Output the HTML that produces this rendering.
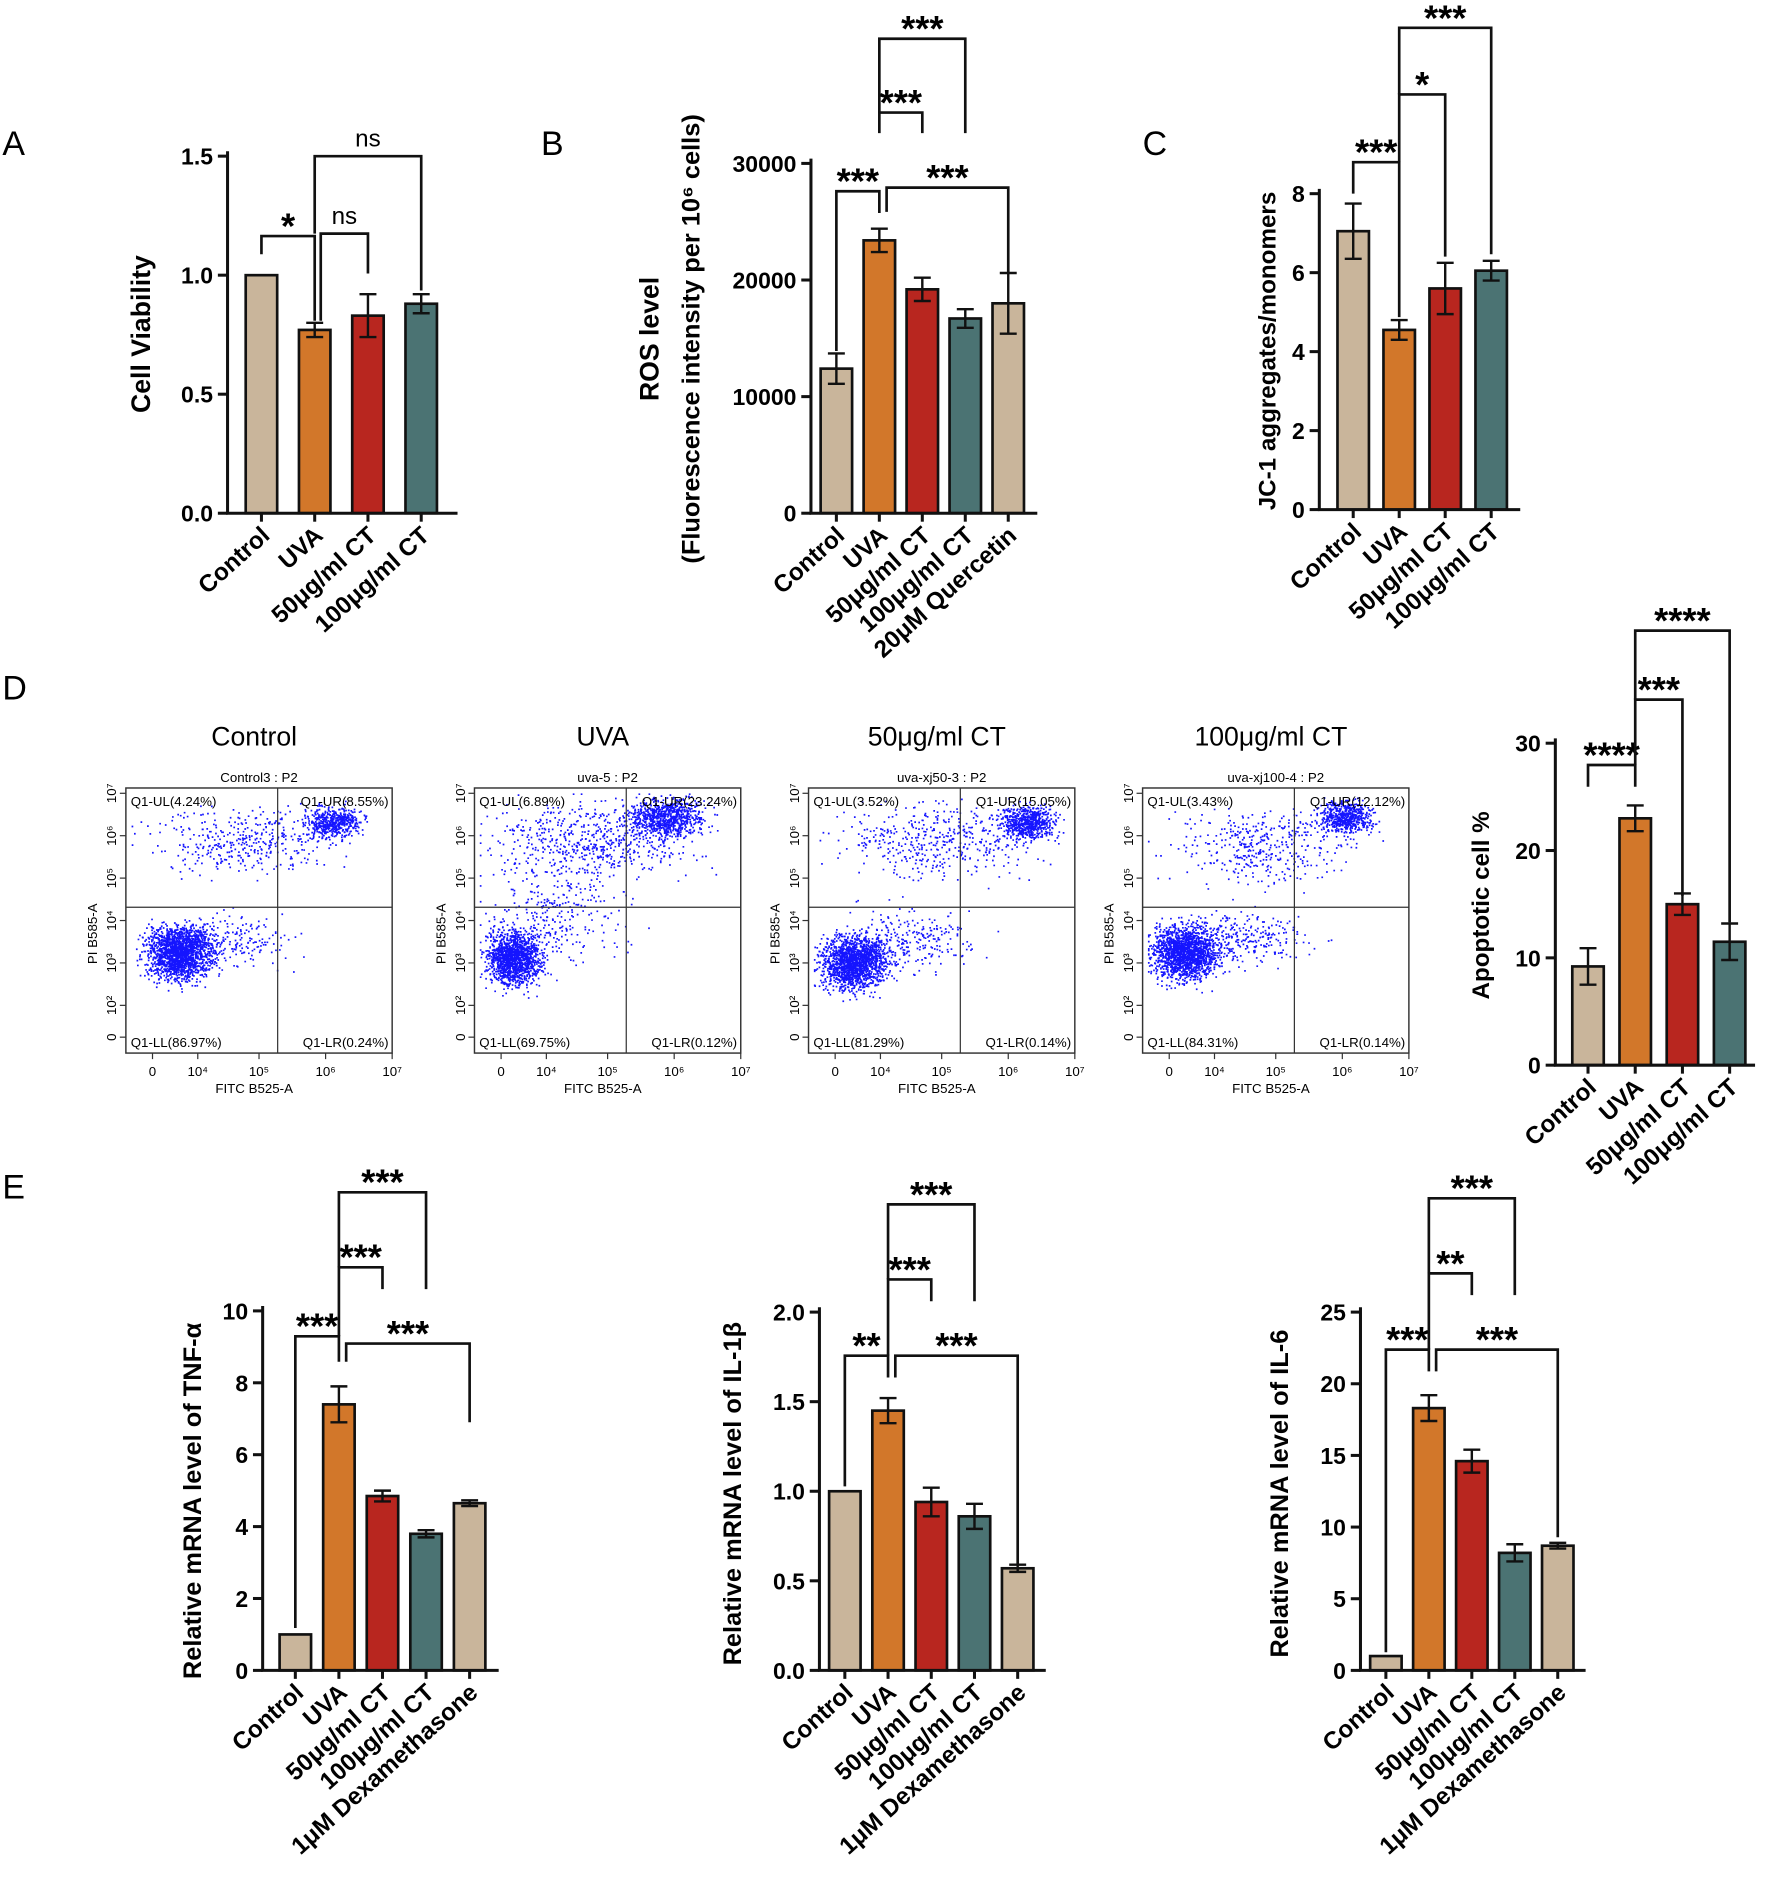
<!DOCTYPE html>
<html><head><meta charset="utf-8"><style>
html,body{margin:0;padding:0;background:#fff}
svg{display:block}
text{font-family:"Liberation Sans",Arial,sans-serif}
</style></head><body>
<svg id="fig" width="1772" height="1904" viewBox="0 0 1464 1573" preserveAspectRatio="none" xmlns="http://www.w3.org/2000/svg"></svg>
<script>
// ---- data arrays ----
const COLORS=['#c9b59b','#d2772a','#b8261f','#4b7373','#c9b59b'];
const catsA=['Control','UVA','50μg/ml CT','100μg/ml CT'];
const valsA=[1.0,0.77,0.83,0.88];
const errA=[0,0.03,0.09,0.04];
const ticksA=[0,0.5,1.0,1.5];
const tickLabA=['0.0','0.5','1.0','1.5'];
const catsB=['Control','UVA','50μg/ml CT','100μg/ml CT','20μM Quercetin'];
const valsB=[12400,23400,19200,16700,18000];
const errB=[1300,1000,1000,800,2600];
const ticksB=[0,10000,20000,30000];
const catsC=['Control','UVA','50μg/ml CT','100μg/ml CT'];
const valsC=[7.05,4.55,5.6,6.05];
const errC=[0.7,0.25,0.65,0.25];
const ticksC=[0,2,4,6,8];
const catsD=['Control','UVA','50μg/ml CT','100μg/ml CT'];
const valsD=[9.2,23.0,15.0,11.5];
const errD=[1.7,1.2,1.0,1.7];
const ticksD=[0,10,20,30];
const catsE=['Control','UVA','50μg/ml CT','100μg/ml CT','1μM Dexamethasone'];
const valsE1=[1,7.4,4.85,3.8,4.65];
const errE1=[0,0.5,0.15,0.1,0.08];
const ticksE1=[0,2,4,6,8,10];
const valsE2=[1,1.45,0.94,0.86,0.57];
const errE2=[0,0.07,0.08,0.07,0.02];
const ticksE2=[0,0.5,1.0,1.5,2.0];
const tickLabE2=['0.0','0.5','1.0','1.5','2.0'];
const valsE3=[1,18.3,14.6,8.2,8.7];
const errE3=[0,0.9,0.8,0.6,0.2];
const ticksE3=[0,5,10,15,20,25];
const flowTitles=['Control','UVA','50μg/ml CT','100μg/ml CT'];
const flowSub=['Control3 : P2','uva-5 : P2','uva-xj50-3 : P2','uva-xj100-4 : P2'];
const flowUL=['4.24','6.89','3.52','3.43'];
const flowUR=['8.55','23.24','15.05','12.12'];
const flowLL=['86.97','69.75','81.29','84.31'];
const flowLR=['0.24','0.12','0.14','0.14'];

const NS='http://www.w3.org/2000/svg';
const svg=document.getElementById('fig');
function el(tag,attrs,parent,txt){const e=document.createElementNS(NS,tag);for(const k in attrs)e.setAttribute(k,attrs[k]);if(txt!==undefined)e.textContent=txt;(parent||svg).appendChild(e);return e;}

function chart(cfg){
  const g=el('g',{});
  
  
  const y=v=>cfg.y0-(v-0)/(cfg.ymax)*(cfg.y0-cfg.ytop);
  const x=i=>cfg.x0+cfg.first+i*cfg.step;
  const bw=cfg.bw||26;
  cfg.vals.forEach((v,i)=>{
    const r=el('rect',{x:x(i)-bw/2,y:y(v),width:bw,height:cfg.y0-y(v),fill:COLORS[i],stroke:'#111','stroke-width':2.2},g);
    
    
    const e=cfg.err[i];
    if(e>0){
      el('line',{x1:x(i),x2:x(i),y1:y(v+e),y2:y(v-e),stroke:'#111','stroke-width':2},g);
      el('line',{x1:x(i)-7,x2:x(i)+7,y1:y(v+e),y2:y(v+e),stroke:'#111','stroke-width':2},g);
      el('line',{x1:x(i)-7,x2:x(i)+7,y1:y(v-e),y2:y(v-e),stroke:'#111','stroke-width':2},g);
    }
    const t=el('text',{x:0,y:0,transform:`translate(${x(i)+8},${cfg.y0+20}) rotate(-42)`,'text-anchor':'end','font-size':20,'font-weight':'bold'},g,cfg.cats[i]);
    
    
  });
  const ax=el('path',{d:`M${cfg.x0},${cfg.ytop-4}V${cfg.y0}H${cfg.xend}`,fill:'none',stroke:'#111','stroke-width':2.5},g);
  
  
  cfg.ticks.forEach((tv,k)=>{
    el('line',{x1:cfg.x0-8,x2:cfg.x0,y1:y(tv),y2:y(tv),stroke:'#111','stroke-width':2.5},g);
    const t=el('text',{x:cfg.x0-12,y:y(tv)+7,'text-anchor':'end','font-size':19,'font-weight':'bold'},g,cfg.tickLab?cfg.tickLab[k]:String(tv));
    
    
  });
  cfg.vals.forEach((v,i)=>el('line',{x1:x(i),x2:x(i),y1:cfg.y0,y2:cfg.y0+7,stroke:'#111','stroke-width':2.5},g));
  (cfg.titles||[]).forEach(tt=>{
    const t=el('text',{x:0,y:0,transform:`translate(${tt[0]},${tt[1]}) rotate(-90)`,'text-anchor':'middle','font-size':tt[2]||21,'font-weight':'bold'},g,tt[3]);
    
    
  });
  // brackets: [i, j, yline, label, leftBottom, rightBottom, dxLeft]
  (cfg.br||[]).forEach(b=>{
    const xl=x(b[0])+(b[6]||0), xr=x(b[1]);
    const p=el('path',{d:`M${xl},${b[4]}V${b[2]}H${xr}V${b[5]}`,fill:'none',stroke:'#111','stroke-width':2.2},g);
    
    
    const star=b[3].indexOf('*')>=0;
    const t=el('text',{x:(xl+xr)/2,y:star?b[2]+2:b[2]-8,'text-anchor':'middle','font-size':star?30:20,'font-weight':star?'bold':'normal'},g,b[3]);
    
    
  });
}

function panelLabel(s,xx,yy){const t=el('text',{x:xx,y:yy,'font-size':28},svg,s);}
panelLabel('A',2,128);panelLabel('B',447,128);panelLabel('C',944,128);panelLabel('D',2,578);panelLabel('E',2,990);

chart({name:'chart-a-cell-viability',cats:catsA,vals:valsA,err:errA,ticks:ticksA,tickLab:tickLabA,x0:188,y0:424,ytop:129,ymax:1.5,first:28,step:44,xend:378,
  titles:[[124,276,22,'Cell Viability']],
  br:[[0,1,195,'*',210,265,0],[1,2,193,'ns',265,226,5],[1,3,129,'ns',193,240,0]]});
chart({name:'chart-b-ros',cats:catsB,vals:valsB,err:errB,ticks:ticksB,x0:670,y0:424,ytop:135,ymax:30000,first:21,step:35.5,xend:857,
  titles:[[544,280,22,'ROS level'],[578,280,21,'(Fluorescence intensity per 10⁶ cells)']],
  br:[[0,1,158,'***',290,176,0],[1,2,93,'***',110,110,0],[1,3,32,'***',93,110,0],[1,4,155,'***',175,225,6]]});
chart({name:'chart-c-jc1',cats:catsC,vals:valsC,err:errC,ticks:ticksC,x0:1090,y0:421,ytop:160,ymax:8,first:28,step:38,xend:1256,
  titles:[[1054,290,20,'JC-1 aggregates/monomers']],
  br:[[0,1,134,'***',160,262,0],[1,2,78,'*',134,212,0],[1,3,23,'***',78,210,0]]});
chart({name:'chart-d-apoptosis',cats:catsD,vals:valsD,err:errD,ticks:ticksD,x0:1285,y0:880,ytop:614,ymax:30,first:27,step:39,xend:1450,
  titles:[[1230,748,20,'Apoptotic cell %']],
  br:[[0,1,632,'****',650,650,0],[1,2,578,'***',632,740,0],[1,3,521,'****',578,762,0]]});
chart({name:'chart-e-tnf',cats:catsE,vals:valsE1,err:errE1,ticks:ticksE1,x0:217,y0:1380,ytop:1083,ymax:10,first:27,step:36,xend:412,
  titles:[[166,1240,21,'Relative mRNA level of TNF-α']],
  br:[[0,1,1104,'***',1345,1125,0],[1,2,1047,'***',1104,1065,0],[1,3,985,'***',1047,1065,0],[1,4,1110,'***',1125,1175,6]]});
chart({name:'chart-e-il1b',cats:catsE,vals:valsE2,err:errE2,ticks:ticksE2,tickLab:tickLabE2,x0:677,y0:1380,ytop:1084,ymax:2.0,first:21,step:35.7,xend:864,
  titles:[[612,1234,21,'Relative mRNA level of IL-1β']],
  br:[[0,1,1120,'**',1228,1138,0],[1,2,1057,'***',1120,1075,0],[1,3,995,'***',1057,1075,0],[1,4,1120,'***',1138,1292,6]]});
chart({name:'chart-e-il6',cats:catsE,vals:valsE3,err:errE3,ticks:ticksE3,x0:1124,y0:1380,ytop:1084,ymax:25,first:21,step:35.5,xend:1310,
  titles:[[1064,1234,21,'Relative mRNA level of IL-6']],
  br:[[0,1,1115,'***',1365,1133,0],[1,2,1052,'**',1115,1070,0],[1,3,990,'***',1052,1070,0],[1,4,1115,'***',1133,1270,6]]});

// ---- flow cytometry ----
// cluster definitions per plot: [relX, relY, spreadX, spreadY, count] (relative to plot box 0..1)
const flowClusters=[
 [[0.2,0.62,0.06,0.05,1800],[0.78,0.13,0.05,0.03,500],[0.45,0.2,0.16,0.06,400],[0.38,0.58,0.12,0.05,220]],
 [[0.15,0.64,0.05,0.05,1400],[0.72,0.11,0.07,0.035,800],[0.45,0.2,0.18,0.07,600],[0.3,0.48,0.14,0.1,300]],
 [[0.17,0.66,0.06,0.05,1600],[0.82,0.13,0.05,0.03,650],[0.5,0.2,0.18,0.07,450],[0.37,0.57,0.12,0.06,280]],
 [[0.16,0.62,0.06,0.05,1650],[0.76,0.11,0.05,0.03,550],[0.45,0.22,0.16,0.07,400],[0.38,0.57,0.12,0.05,280]]];
const flowX=[104,392,668,944];
let seed=12345;function rnd(){seed=(seed*1103515245+12345)%2147483648;return seed/2147483648;}
function gauss(){return (rnd()+rnd()+rnd()+rnd()-2)/0.58;}
flowX.forEach((bx,p)=>{
  const g=el('g',{});
  
  
  const by=651,W=220,H=219;
  const t=el('text',{x:bx+W/2-4,y:616,'text-anchor':'middle','font-size':22},g,flowTitles[p]);
  
  
  el('text',{x:bx+W/2,y:646,'text-anchor':'middle','font-size':11},g,flowSub[p]);
  let pts='';
  flowClusters[p].forEach(c=>{for(let k=0;k<c[4];k++){const px=Math.min(0.98,Math.max(0.02,c[0]+gauss()*c[2])),py=Math.min(0.98,Math.max(0.02,c[1]+gauss()*c[3]));pts+=`M${(bx+px*W).toFixed(1)},${(by+py*H).toFixed(1)}h1.4v1.4h-1.4z`;}});
  el('path',{d:pts,fill:'#1515ff'},g);
  el('rect',{x:bx,y:by,width:W,height:H,fill:'none',stroke:'#333','stroke-width':1.2},g);
  el('line',{x1:bx+W*0.57,x2:bx+W*0.57,y1:by,y2:by+H,stroke:'#333','stroke-width':1},g);
  el('line',{x1:bx,x2:bx+W,y1:by+H*0.45,y2:by+H*0.45,stroke:'#333','stroke-width':1},g);
  el('text',{x:bx+4,y:by+15,'font-size':11},g,'Q1-UL('+flowUL[p]+'%)');
  el('text',{x:bx+W-3,y:by+15,'font-size':11,'text-anchor':'end'},g,'Q1-UR('+flowUR[p]+'%)');
  el('text',{x:bx+4,y:by+H-5,'font-size':11},g,'Q1-LL('+flowLL[p]+'%)');
  el('text',{x:bx+W-3,y:by+H-5,'font-size':11,'text-anchor':'end'},g,'Q1-LR('+flowLR[p]+'%)');
  const xl=[[0.1,'0'],[0.27,'10⁴'],[0.5,'10⁵'],[0.75,'10⁶'],[1.0,'10⁷']];
  xl.forEach(a=>{el('line',{x1:bx+a[0]*W,x2:bx+a[0]*W,y1:by+H,y2:by+H+5,stroke:'#333'},g);el('text',{x:bx+a[0]*W,y:by+H+19,'font-size':11,'text-anchor':'middle'},g,a[1]);});
  el('text',{x:bx+W/2-4,y:by+H+33,'font-size':11,'text-anchor':'middle'},g,'FITC B525-A');
  const yl=[[0.02,'10⁷'],[0.18,'10⁶'],[0.34,'10⁵'],[0.5,'10⁴'],[0.66,'10³'],[0.82,'10²'],[0.94,'0']];
  yl.forEach(a=>{el('line',{x1:bx-5,x2:bx,y1:by+a[0]*H,y2:by+a[0]*H,stroke:'#333'},g);el('text',{x:0,y:0,transform:`translate(${bx-8},${by+a[0]*H}) rotate(-90)`,'font-size':11,'text-anchor':'middle'},g,a[1]);});
  el('text',{x:0,y:0,transform:`translate(${bx-24},${by+H*0.55}) rotate(-90)`,'font-size':11,'text-anchor':'middle'},g,'PI B585-A');
});
</script>
</body></html>
